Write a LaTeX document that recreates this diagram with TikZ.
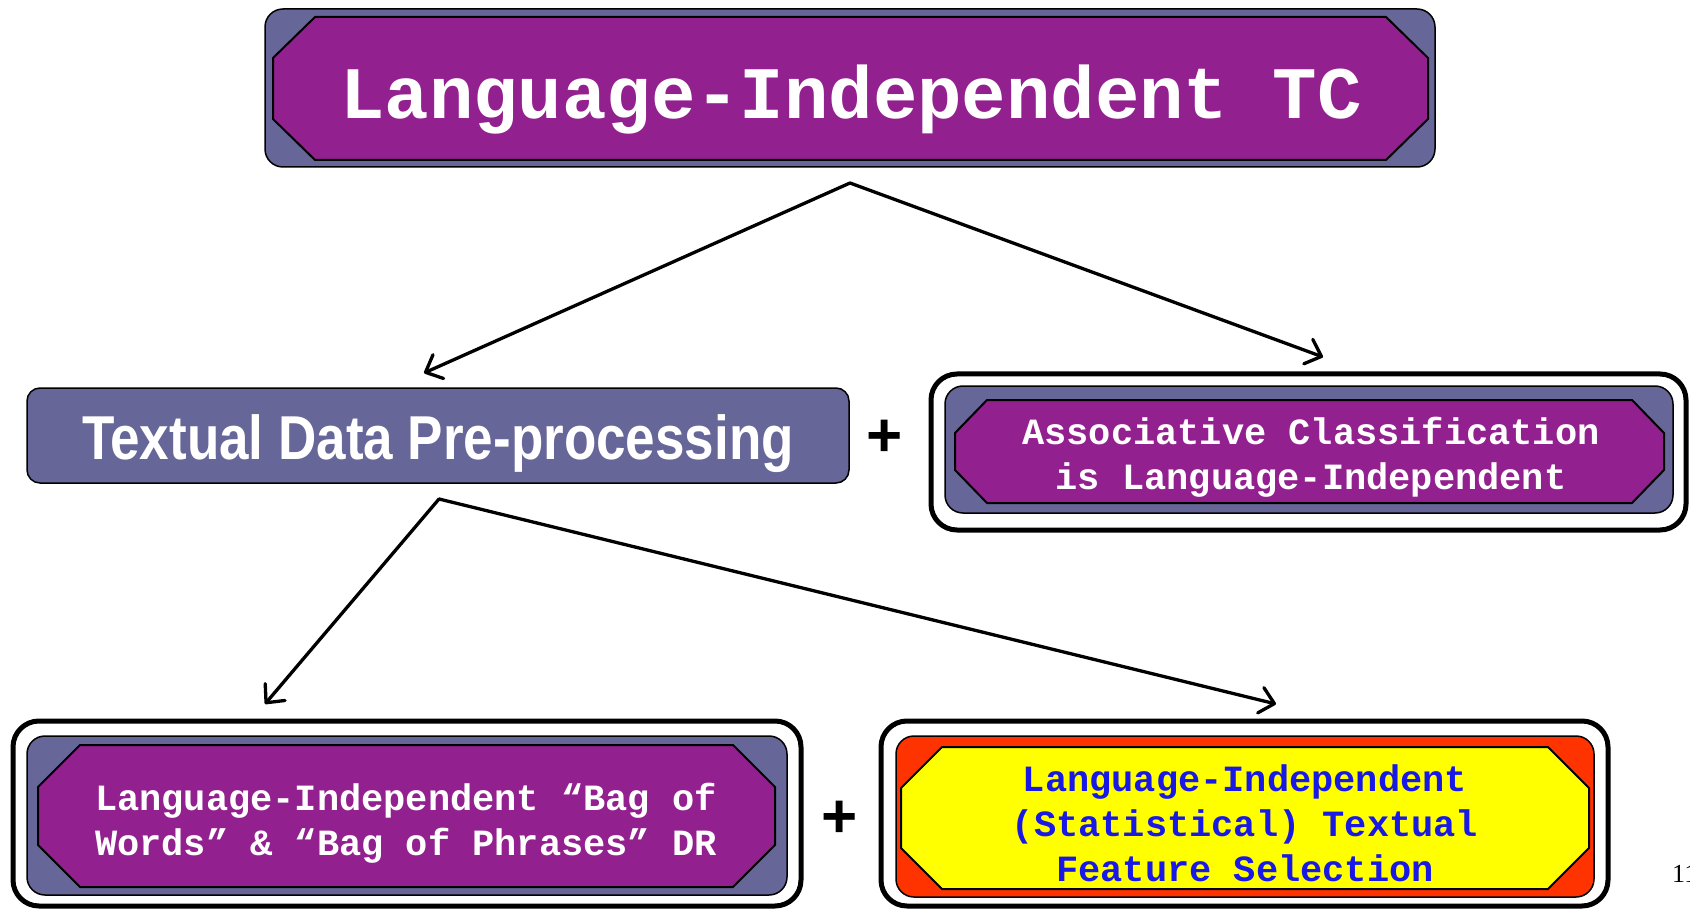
\documentclass[tikz,border=0pt]{standalone}
\usepackage{fontspec}
\usepackage{graphicx}
\usetikzlibrary{arrows.meta}
\newfontfamily\monofam{Liberation Mono}
\newfontfamily\sansfam{Liberation Sans}
\newfontfamily\seriffam{Liberation Serif}
\definecolor{purp}{RGB}{147,32,143}
\definecolor{slate}{RGB}{102,102,153}
\definecolor{redorange}{RGB}{255,51,0}
\definecolor{yel}{RGB}{255,255,0}
\definecolor{txtblue}{RGB}{25,25,230}
\begin{document}
\begin{tikzpicture}[x=1pt,y=-1pt,
  frame/.style={draw=black,line width=5pt,fill=white,rounded corners=26pt},
  slatebox/.style={draw=black,line width=1.5pt,fill=slate,rounded corners=18pt},
  redbox/.style={draw=black,line width=1.5pt,fill=redorange,rounded corners=18pt},
  octa/.style={draw=black,line width=2pt,fill=purp},
  yocta/.style={draw=black,line width=2pt,fill=yel},
  octpath/.style n args={6}{insert path={(#1+#5,#2) -- (#3-#5,#2) -- (#3,#2+#6) -- (#3,#4-#6) -- (#3-#5,#4) -- (#1+#5,#4) -- (#1,#4-#6) -- (#1,#2+#6) -- cycle}},
  arr/.style={line width=3.3pt,line cap=round,-{Straight Barb[length=14pt,width=26pt,line cap=round,line join=round]}},
  bigmono/.style={font=\monofam\bfseries\fontsize{74}{80}\selectfont,text=white},
  smallmono/.style={font=\monofam\bfseries\fontsize{37}{45}\selectfont,align=center,inner sep=0pt},
  plus/.style={font=\sansfam\bfseries\fontsize{62}{70}\selectfont,inner sep=0pt}
]
\useasboundingbox (0,0) rectangle (1690,909);

% top box
\draw[slatebox] (265,9) rectangle (1435,167);
\draw[octa, octpath={273}{17}{1428}{160}{42}{41}];
\node[bigmono, anchor=base] (title) at (851,119) {Language-Independent TC};

% Textual data pre-processing
\draw[slatebox, rounded corners=13pt] (27,388) rectangle (849,483);
\node[font=\sansfam\bfseries\fontsize{62}{70}\selectfont,text=white,anchor=base] (prep) at (438,459) {\scalebox{0.855}[1]{Textual Data Pre-processing}};

\node[plus] (plus1) at (885,438) {+};

% Associative classification
\draw[frame] (931,374) rectangle (1686,530);
\draw[slatebox] (945,386) rectangle (1673,513);
\draw[octa, octpath={955}{400}{1664}{503}{32}{33}];
\node[smallmono,text=white] (assoc) at (1311,457.5) {\strut Associative Classification\\\strut is Language-Independent};

% bottom left
\draw[frame] (13,721) rectangle (801,906);
\draw[slatebox] (27,736) rectangle (787,895);
\draw[octa, octpath={38}{745}{775}{887}{42}{42}];
\node[smallmono,text=white] (bow) at (406,823.5) {\strut Language-Independent “Bag of\\\strut Words” \& “Bag of Phrases” DR};

\node[plus] (plus2) at (840,819) {+};

% bottom right
\draw[frame] (881,721) rectangle (1608,906);
\draw[redbox] (896,736) rectangle (1594,897);
\draw[yocta, octpath={901}{747}{1589}{889}{41}{41}];
\node[smallmono,text=txtblue] (fs) at (1245,827) {\strut Language-Independent\\\strut (Statistical) Textual\\\strut Feature Selection};

% page number
\node[font=\seriffam\fontsize{26}{30}\selectfont,anchor=base west,inner sep=0pt] (pageno) at (1672,882) {11};

% connectors
\coordinate (apexA) at (850,183);
\coordinate (tipL) at (424,373);
\coordinate (tipR) at (1323,357);
\coordinate (apexB) at (439,499);
\coordinate (tipBL) at (265,704);
\coordinate (tipBR) at (1276,704);
\draw[arr] (apexA) -- (tipL);
\draw[arr] (apexA) -- (tipR);
\draw[arr] (apexB) -- (tipBL);
\draw[arr] (apexB) -- (tipBR);
\end{tikzpicture}
\end{document}
